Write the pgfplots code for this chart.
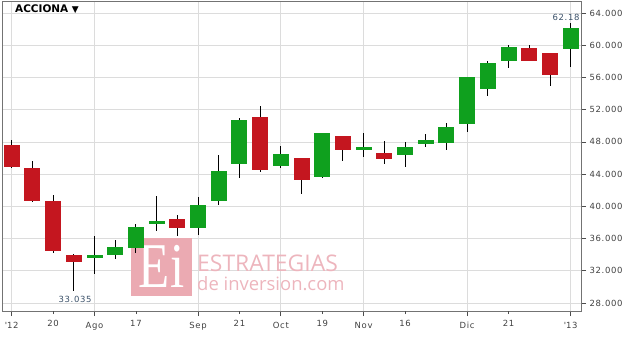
\documentclass[border=0pt]{standalone}
\usepackage{fontspec}
\setmainfont{DejaVu Sans}
\newfontfamily\lsfont[LetterSpace=8]{DejaVu Sans}
\newfontfamily\wmfont{Open Sans}
\newfontfamily\logofont{Liberation Serif}
\usepackage{pgfplots}
\usepackage{pgfplotstable}
\pgfplotsset{compat=1.18}
\definecolor{cgreen}{HTML}{0FA01E}
\definecolor{cred}{HTML}{C4161F}
\definecolor{gridc}{HTML}{DCDCDC}
\definecolor{annc}{HTML}{3A5068}
\definecolor{wmbox}{HTML}{EBAAB2}
\definecolor{wmtext}{HTML}{EDB5BD}

% idx open high low close
\pgfplotstableread{
x  open  high  low   close
4  33.55 36.28 31.64 34.00
5  33.92 35.78 33.50 34.99
6  34.87 37.84 34.20 37.43
7  37.80 41.24 36.90 38.14
9  37.35 41.16 36.49 40.12
10 40.62 46.40 40.20 44.39
11 45.25 50.93 43.55 50.72
13 45.05 47.52 44.76 46.50
15 43.64 49.10 43.50 49.06
17 46.96 49.06 46.17 47.32
19 46.33 48.02 44.92 47.40
20 47.69 48.93 47.36 48.18
21 47.90 50.31 47.00 49.85
22 50.26 56.05 49.22 56.05
23 54.56 58.04 53.73 57.75
24 58.04 60.03 57.13 59.74
27 59.49 62.80 57.34 62.14
}\greentab
\pgfplotstableread{
x  open  high  low   close
0  47.61 48.23 44.70 44.92
1  44.72 45.63 40.55 40.62
2  40.62 41.37 34.20 34.45
3  33.92 34.12 29.49 33.05
8  38.39 38.96 36.36 37.27
12 51.14 52.45 44.26 44.47
14 46.05 46.05 41.57 43.22
16 48.78 48.78 45.63 46.96
18 46.66 48.14 45.20 45.91
25 59.65 60.03 58.04 58.04
26 59.08 59.08 54.94 56.26
}\redtab

\begin{document}
\begin{tikzpicture}
\path[use as bounding box] (0,0) rectangle (633bp,337bp);
\begin{axis}[
  at={(2bp,26bp)}, anchor=south west,
  scale only axis, width=579bp, height=310bp,
  xmin=-0.47, xmax=27.5, ymin=27.0, ymax=65.5,
  axis line style={draw=black!55, line width=0.9bp},
  tick align=outside, xtick pos=left, ytick pos=right,
  xtick={0,4,9,13,17,22,27},
  xticklabels={\textquotesingle12,Ago,Sep,Oct,Nov,Dic,\textquotesingle13},
  extra x ticks={2,6,11,15,19,24},
  extra x tick labels={20,17,21,19,16,21},
  extra x tick style={grid=none, major tick length=3bp},
  ytick={28,32,...,64},
  xmajorgrids, ymajorgrids,
  grid style={draw=gridc, line width=0.8bp},
  major tick length=5bp,
  tick style={draw=black!70, line width=0.8bp},
  yticklabel style={font=\lsfont\fontsize{8.5}{10}\selectfont, text=black!75, /pgf/number format/.cd, fixed, fixed zerofill, precision=3, assume math mode=true},
  xticklabel style={font=\lsfont\fontsize{8.5}{10}\selectfont, text=black!75, yshift=-3bp},
  clip=false,
]
% watermark (decoration, drawn over the grid and under the candles)
\fill[wmbox] (axis cs:5.763,28.87) rectangle (axis cs:8.71,36.07);
\node[anchor=base, text=white, inner sep=0pt, xscale=0.8] at (axis cs:7.237,29.95) {\logofont\fontsize{64}{64}\selectfont Ei};
\node[anchor=base west, text=wmtext, inner sep=0pt] at (axis cs:8.95,31.85) {\wmfont\fontsize{23}{23}\selectfont ESTRATEGIAS};
\node[anchor=base west, text=wmtext, inner sep=0pt] at (axis cs:8.95,29.49) {\wmfont\fontsize{18.5}{18.5}\selectfont de inversion.com};
% wicks
\addplot[draw=none, mark=none, forget plot, error bars/.cd, y dir=both, y explicit,
  error mark=none, error bar style={draw=black, line width=0.9bp}]
  table[x=x, y expr={(\thisrow{high}+\thisrow{low})/2}, y error expr={(\thisrow{high}-\thisrow{low})/2}] {\greentab};
\addplot[draw=none, mark=none, forget plot, error bars/.cd, y dir=both, y explicit,
  error mark=none, error bar style={draw=black, line width=0.9bp}]
  table[x=x, y expr={(\thisrow{high}+\thisrow{low})/2}, y error expr={(\thisrow{high}-\thisrow{low})/2}] {\redtab};
% bodies
\addplot[draw=none, mark=none, forget plot, error bars/.cd, y dir=both, y explicit,
  error mark=none, error bar style={draw=cgreen, line width=16bp, line cap=butt}]
  table[x=x, y expr={(\thisrow{open}+\thisrow{close})/2}, y error expr={abs(\thisrow{close}-\thisrow{open})/2}] {\greentab};
\addplot[draw=none, mark=none, forget plot, error bars/.cd, y dir=both, y explicit,
  error mark=none, error bar style={draw=cred, line width=16bp, line cap=butt}]
  table[x=x, y expr={(\thisrow{open}+\thisrow{close})/2}, y error expr={abs(\thisrow{close}-\thisrow{open})/2}] {\redtab};
\node[text=annc, font=\lsfont\fontsize{8.5}{10}\selectfont, inner sep=0pt] at (axis cs:3.06,28.5) {33.035};
\node[text=annc, font=\lsfont\fontsize{8.5}{10}\selectfont, inner sep=0pt] at (axis cs:26.78,63.45) {62.18};
\end{axis}
\node[anchor=base west, inner sep=0pt] at (15bp,324.5bp) {\fontsize{10.5}{12}\selectfont\bfseries ACCIONA \fontsize{9}{10}\selectfont▼};
\end{tikzpicture}
\end{document}
